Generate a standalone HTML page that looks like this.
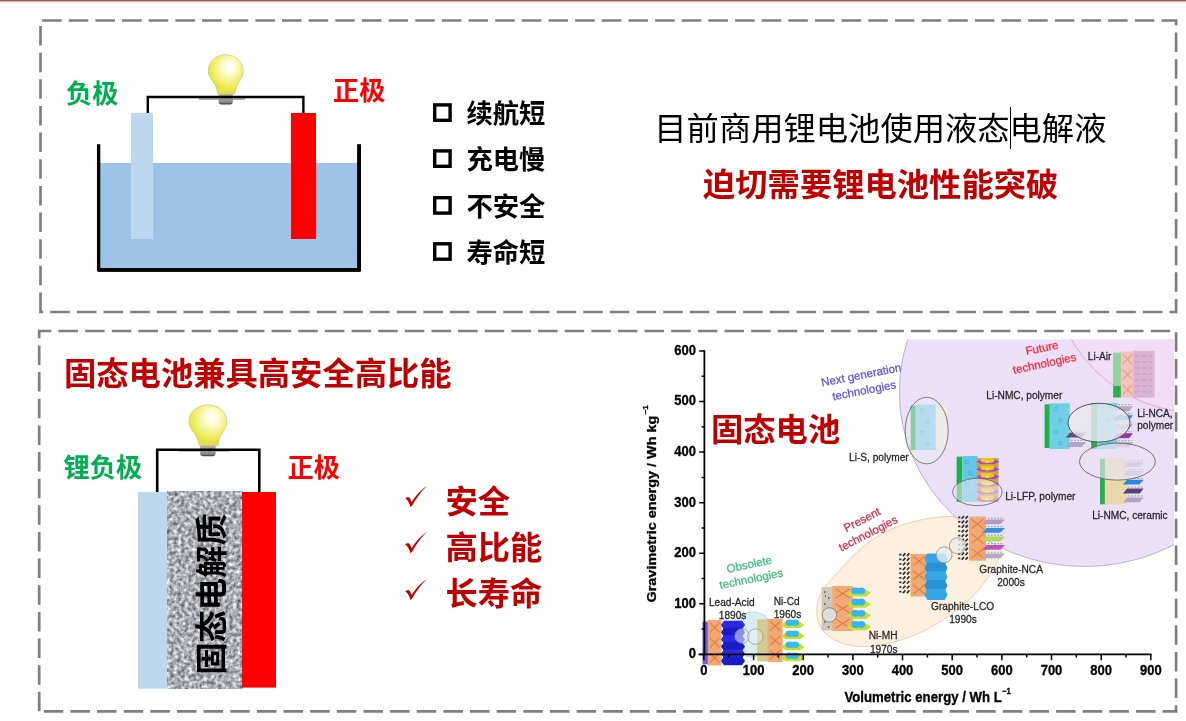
<!DOCTYPE html>
<html lang="zh-CN">
<head>
<meta charset="utf-8">
<title>固态电池兼具高安全高比能</title>
<style>
html,body{margin:0;padding:0;background:#fff;}
body{width:1186px;height:721px;position:relative;overflow:hidden;font-family:"Liberation Sans","Noto Sans CJK SC",sans-serif;}
#shapes{position:absolute;left:0;top:0;width:1186px;height:721px;}
.t{position:absolute;white-space:nowrap;line-height:1;margin:0;padding:0;}
.b{font-weight:700;}
.g{color:#00b050;}
.r{color:#ff0000;}
.dr{color:#c00000;}
.s26{font-size:26.3px;}
.s32{font-size:32.3px;}
ul{list-style:none;margin:0;padding:0;}
</style>
</head>
<body>
<svg id="shapes" width="1186" height="721" viewBox="0 0 1186 721">
<defs>
<radialGradient id="bulbg" cx="0.6" cy="0.32" r="0.6">
<stop offset="0" stop-color="#ffffff"/>
<stop offset="0.25" stop-color="#fdfddc"/>
<stop offset="0.58" stop-color="#f4f490"/>
<stop offset="0.9" stop-color="#ebeb4e"/>
<stop offset="1" stop-color="#e2e244"/>
</radialGradient>
<linearGradient id="baseg" x1="0" y1="0" x2="0" y2="1">
<stop offset="0" stop-color="#b5b0b8"/>
<stop offset="0.45" stop-color="#9a989e"/>
<stop offset="0.8" stop-color="#8a8a8a"/>
<stop offset="1" stop-color="#2e2e2e"/>
</linearGradient>
<filter id="granite" x="0" y="0" width="100%" height="100%" color-interpolation-filters="sRGB">
<feTurbulence type="fractalNoise" baseFrequency="0.27" numOctaves="2" seed="7" result="n"/>
<feColorMatrix in="n" type="matrix" values="0 0.95 0 0 0.2  0 0.95 0 0 0.205  0 0.95 0 0 0.23  0 0 0 0 1" result="c"/>
<feGaussianBlur in="c" stdDeviation="0.6"/>
</filter>
<path id="chk" d="M0.15,12.60 C1.26,11.66 2.93,11.10 4.04,11.66 C5.15,12.49 5.98,14.71 6.81,16.37 C9.86,10.83 15.41,4.17 22.07,0.18 C17.07,4.72 11.53,11.94 7.64,19.15 C7.09,20.26 6.26,20.92 5.31,21.15 C4.59,18.04 2.93,14.16 0.15,12.60Z" fill="#c00000"/>
<g id="bulb">
<rect x="-9.4" y="43.5" width="46.2" height="1.7" fill="#a3a3a3"/>
<path d="M10.3,39 H24.5 V47 Q24.5,49.7 21.5,49.7 H13.3 Q10.3,49.7 10.3,47 Z" fill="url(#baseg)"/>
<path d="M17.4,0 C7.5,0 0,7.2 0,16.2 C0,22.3 4.2,25.3 6.8,30.2 C8.3,33 9,36 9.4,39.3 L26.6,39.3 C27,36 27.5,33 28.9,30.2 C31.2,25.3 34.9,22.3 34.9,16.2 C34.9,7.2 27.3,0 17.4,0 Z" fill="url(#bulbg)" stroke="#c6c66e" stroke-width="0.7"/>
</g>
</defs>
<!-- top rule -->
<rect x="0" y="0" width="1186" height="1" fill="#ab5254"/>
<rect x="0" y="1" width="1186" height="1" fill="#bcc0c0"/>
<rect x="0" y="2" width="1186" height="1" fill="#e6e7e8"/>
<rect x="0" y="3" width="1186" height="1" fill="#f7f7f8"/>
<!-- panels -->
<path d="M40.5,312 V20.5 H1176.1 V312 Z" fill="none" stroke="#7f7f7f" stroke-width="2.7" stroke-dasharray="19.5 7.15"/>
<path d="M39.2,711.3 V331 H1176.1 V711.3 Z" fill="none" stroke="#7f7f7f" stroke-width="2.7" stroke-dasharray="19.5 7.14"/>
<!-- beaker -->
<rect x="100" y="162.9" width="258" height="106" fill="#9dc3e6"/>
<rect x="131" y="113" width="22" height="126" fill="#bdd7ee"/>
<rect x="291" y="113" width="25" height="126" fill="#ff0000"/>
<rect x="96.95" y="144.2" width="3.35" height="127" fill="#000"/>
<rect x="357.1" y="144.2" width="3.9" height="127" fill="#000"/>
<rect x="97.6" y="268" width="262.8" height="3.9" fill="#000"/>
<use href="#bulb" transform="translate(208.3 54.7)"/>
<path d="M147.8,113 V97 H303.4 V113" fill="none" stroke="#000" stroke-width="2.4"/>
<!-- squares -->
<g fill="none" stroke="#000" stroke-width="3.4">
<rect x="434.7" y="104.9" width="15.4" height="15.4"/>
<rect x="434.7" y="150.9" width="15.4" height="15.4"/>
<rect x="434.7" y="197.7" width="15.4" height="15.4"/>
<rect x="434.7" y="243.8" width="15.4" height="15.4"/>
</g>
<!-- caret -->
<rect x="1010" y="107" width="1" height="42" fill="#000"/>
<!-- solid battery -->
<rect x="138" y="492" width="30" height="196.7" fill="#bdd7ee"/>
<rect x="167.5" y="491" width="74.6" height="197.7" fill="#b0b0b0"/>
<rect x="167.5" y="491" width="74.6" height="197.7" filter="url(#granite)"/>
<rect x="242" y="492" width="34" height="195.6" fill="#ff0000"/>
<use href="#bulb" transform="translate(189 404.9) scale(1.086 1.034)"/>
<path d="M157.2,492 V449.7 H259.3 V492" fill="none" stroke="#000" stroke-width="2.6"/>
<use href="#chk" transform="translate(405 485.7)"/>
<use href="#chk" transform="translate(405 531.9)"/>
<use href="#chk" transform="translate(405 578.7)"/>
<!--CHART-->
<clipPath id="cimg"><rect x="640" y="339.6" width="534" height="370"/></clipPath>
<filter id="soft" x="-2%" y="-2%" width="104%" height="104%"><feGaussianBlur stdDeviation="0.6"/></filter>
<g filter="url(#soft)">
<g id="chart" clip-path="url(#cimg)">
<path d="M816.8,612.2C816.7,608.6 817.1,604.7 818.0,601.1C819.0,597.5 820.5,594.0 822.5,590.6C824.5,587.3 827.0,584.6 829.9,581.2C832.8,577.9 836.2,574.5 839.6,570.6C843.1,566.8 847.1,562.2 850.8,558.3C854.6,554.5 858.5,550.7 862.2,547.5C865.9,544.3 869.6,541.7 873.3,539.2C877.0,536.7 880.7,534.6 884.4,532.6C888.1,530.6 891.8,529.0 895.5,527.5C899.2,526.0 902.8,524.7 906.5,523.6C910.2,522.4 913.9,521.5 917.6,520.6C921.3,519.8 925.0,519.1 928.7,518.5C932.4,517.9 936.1,517.5 939.8,517.1C943.5,516.8 947.1,516.5 950.9,516.5C954.7,516.4 958.5,516.3 962.5,516.7C966.5,517.1 970.9,517.6 975.0,518.8C979.1,520.0 983.6,521.7 987.2,523.9C990.9,526.1 994.3,529.0 996.8,532.0C999.2,535.0 1000.9,538.6 1001.7,542.1C1002.4,545.5 1002.2,549.0 1001.2,552.8C1000.1,556.7 998.1,560.6 995.6,565.0C993.2,569.5 989.9,574.8 986.5,579.7C983.0,584.5 978.9,589.7 974.9,594.0C970.9,598.4 966.6,602.2 962.4,605.8C958.3,609.3 954.1,612.3 950.0,615.3C945.8,618.2 941.7,620.9 937.5,623.4C933.3,625.9 929.2,628.2 925.0,630.3C920.8,632.4 916.8,634.2 912.5,635.9C908.2,637.6 903.9,639.1 899.1,640.5C894.3,641.9 888.9,643.3 883.8,644.3C878.6,645.3 873.0,646.1 868.3,646.4C863.5,646.7 859.3,646.6 855.2,646.2C851.1,645.7 847.5,645.0 843.8,643.8C840.1,642.6 836.3,641.0 833.0,639.0C829.7,637.1 826.4,634.6 824.0,631.8C821.6,629.1 819.8,626.0 818.6,622.7C817.4,619.4 816.9,615.8 816.8,612.2Z" fill="#fdf0df" stroke="#f3c6a6" stroke-width="0.9"/>
<ellipse cx="1084.5" cy="391.6" rx="185.2" ry="174.9" fill="#ecdff8" stroke="#b9b4d6" stroke-width="1"/>
<circle cx="1198.6" cy="265.7" r="147.2" fill="#efdef5" stroke="#ec9fc2" stroke-width="0.9"/>
<circle cx="752.3" cy="634.6" r="22.6" fill="#d9eeee" stroke="#b5cdd2" stroke-width="0.8"/>
<rect x="702.5" y="621.6" width="5.5" height="42.7" fill="#6c5fd6"/>
<rect x="707.8" y="620" width="13.8" height="45.4" fill="#f2a873"/><path d="M709.9,622.7L719.5,632.4M719.5,622.7L709.9,632.4M709.9,637.9L719.5,647.5M719.5,637.9L709.9,647.5M709.9,653L719.5,662.7M719.5,653L709.9,662.7" stroke="#de7f3e" stroke-width="1.1" fill="none"/>
<path d="M721,625.1l2.9,-4.4h18.2l2.9,4.4l-2.9,4.4h-18.2z" fill="#2a2ae0"/><path d="M721,632.2l2.9,-4.4h18.2l2.9,4.4l-2.9,4.4h-18.2z" fill="#1c1cc4"/><path d="M721,639.4l2.9,-4.4h18.2l2.9,4.4l-2.9,4.4h-18.2z" fill="#2a2ae0"/><path d="M721,646.6l2.9,-4.4h18.2l2.9,4.4l-2.9,4.4h-18.2z" fill="#1c1cc4"/><path d="M721,653.8l2.9,-4.4h18.2l2.9,4.4l-2.9,4.4h-18.2z" fill="#2a2ae0"/><path d="M721,660.9l2.9,-4.4h18.2l2.9,4.4l-2.9,4.4h-18.2z" fill="#1c1cc4"/>
<rect x="757.1" y="619.4" width="11" height="42" fill="#d3cb8f"/>
<rect x="767.6" y="618.8" width="15" height="43.2" fill="#f2a873"/><path d="M769.9,621.4L780.4,630.6M780.4,621.4L769.9,630.6M769.9,635.8L780.4,645M780.4,635.8L769.9,645M769.9,650.2L780.4,659.4M780.4,650.2L769.9,659.4" stroke="#de7f3e" stroke-width="1.1" fill="none"/>
<path d="M781,624.9l4.7,-3.3h14.1l4.7,3.3l-4.7,3.3h-14.1z" fill="#c8e028"/><ellipse cx="789.5" cy="622.7" rx="4" ry="3.3" fill="#35bdf0"/><ellipse cx="795.1" cy="622.7" rx="4" ry="3.3" fill="#35bdf0"/><path d="M781,635.9l4.7,-3.3h14.1l4.7,3.3l-4.7,3.3h-14.1z" fill="#c8e028"/><ellipse cx="789.5" cy="633.7" rx="4" ry="3.3" fill="#35bdf0"/><ellipse cx="795.1" cy="633.7" rx="4" ry="3.3" fill="#35bdf0"/><path d="M781,646.9l4.7,-3.3h14.1l4.7,3.3l-4.7,3.3h-14.1z" fill="#c8e028"/><ellipse cx="789.5" cy="644.7" rx="4" ry="3.3" fill="#35bdf0"/><ellipse cx="795.1" cy="644.7" rx="4" ry="3.3" fill="#35bdf0"/><path d="M781,657.9l4.7,-3.3h14.1l4.7,3.3l-4.7,3.3h-14.1z" fill="#c8e028"/><ellipse cx="789.5" cy="655.7" rx="4" ry="3.3" fill="#35bdf0"/><ellipse cx="795.1" cy="655.7" rx="4" ry="3.3" fill="#35bdf0"/>
<circle cx="742.1" cy="636" r="7.2" fill="#e8eef4" fill-opacity="0.55" stroke="#8f9ca6" stroke-width="0.8"/>
<circle cx="755.4" cy="636.6" r="7.8" fill="#e3f0ef" fill-opacity="0.4" stroke="#8f9ca6" stroke-width="0.8"/>
<rect x="821.6" y="587.2" width="11.1" height="43.2" fill="#cfc8ba"/>
<path d="M824,592h1.5M828,598h1.5M824,604h1.5M829,609h1.5M824,622h1.5M828,627h1.5M825,596h1" stroke="#555" stroke-width="1.4"/>
<rect x="832.2" y="586" width="21" height="45" fill="#f3aa78"/><path d="M835.4,588.7L850.1,598.3M850.1,588.7L835.4,598.3M835.4,603.7L850.1,613.3M850.1,603.7L835.4,613.3M835.4,618.7L850.1,628.3M850.1,618.7L835.4,628.3" stroke="#de7f3e" stroke-width="1.1" fill="none"/>
<path d="M846.6,593l4.9,-3.4h14.6l4.9,3.4l-4.9,3.4h-14.6z" fill="#c2e030"/><ellipse cx="855.4" cy="590.8" rx="4.1" ry="3.4" fill="#35b4ee"/><ellipse cx="861.2" cy="590.8" rx="4.1" ry="3.4" fill="#35b4ee"/><path d="M846.6,604.3l4.9,-3.4h14.6l4.9,3.4l-4.9,3.4h-14.6z" fill="#c2e030"/><ellipse cx="855.4" cy="602" rx="4.1" ry="3.4" fill="#35b4ee"/><ellipse cx="861.2" cy="602" rx="4.1" ry="3.4" fill="#35b4ee"/><path d="M846.6,615.5l4.9,-3.4h14.6l4.9,3.4l-4.9,3.4h-14.6z" fill="#c2e030"/><ellipse cx="855.4" cy="613.3" rx="4.1" ry="3.4" fill="#35b4ee"/><ellipse cx="861.2" cy="613.3" rx="4.1" ry="3.4" fill="#35b4ee"/><path d="M846.6,626.8l4.9,-3.4h14.6l4.9,3.4l-4.9,3.4h-14.6z" fill="#c2e030"/><ellipse cx="855.4" cy="624.5" rx="4.1" ry="3.4" fill="#35b4ee"/><ellipse cx="861.2" cy="624.5" rx="4.1" ry="3.4" fill="#35b4ee"/>
<circle cx="829.4" cy="614.9" r="7.2" fill="#e4e1e1" fill-opacity="0.85" stroke="#777" stroke-width="0.8"/>
<path d="M899.2,554.7h2.2M902.9,556.1l2.5,-2.8M906.9,556.1l2.5,-2.8M899.2,559.3h2.2M902.9,560.7l2.5,-2.8M906.9,560.7l2.5,-2.8M899.2,564h2.2M902.9,565.3l2.5,-2.8M906.9,565.3l2.5,-2.8M899.2,568.6h2.2M902.9,570l2.5,-2.8M906.9,570l2.5,-2.8M899.2,573.2h2.2M902.9,574.6l2.5,-2.8M906.9,574.6l2.5,-2.8M899.2,577.8h2.2M902.9,579.2l2.5,-2.8M906.9,579.2l2.5,-2.8M899.2,582.4h2.2M902.9,583.8l2.5,-2.8M906.9,583.8l2.5,-2.8M899.2,587.1h2.2M902.9,588.5l2.5,-2.8M906.9,588.5l2.5,-2.8M899.2,591.7h2.2M902.9,593.1l2.5,-2.8M906.9,593.1l2.5,-2.8" stroke="#2c2c2c" stroke-width="1.7" fill="none"/>
<rect x="910.5" y="554" width="17" height="42.5" fill="#f2a873"/><path d="M913,556.5L925,565.6M925,556.5L913,565.6M913,570.7L925,579.8M925,570.7L913,579.8M913,584.9L925,594M925,584.9L913,594" stroke="#de7f3e" stroke-width="1.1" fill="none"/>
<path d="M924.5,559l2.8,-5.5h17.5l2.8,5.5l-2.8,5.5h-17.5z" fill="#36a6e4"/><path d="M924.5,567.9l2.8,-5.5h17.5l2.8,5.5l-2.8,5.5h-17.5z" fill="#2b93d8"/><path d="M924.5,576.8l2.8,-5.5h17.5l2.8,5.5l-2.8,5.5h-17.5z" fill="#36a6e4"/><path d="M924.5,585.6l2.8,-5.5h17.5l2.8,5.5l-2.8,5.5h-17.5z" fill="#2b93d8"/><path d="M924.5,594.5l2.8,-5.5h17.5l2.8,5.5l-2.8,5.5h-17.5z" fill="#36a6e4"/>
<path d="M958.2,517.3h2.1M961.7,518.7l2.3,-2.7M965.5,518.7l2.3,-2.7M958.2,521.9h2.1M961.7,523.2l2.3,-2.7M965.5,523.2l2.3,-2.7M958.2,526.4h2.1M961.7,527.8l2.3,-2.7M965.5,527.8l2.3,-2.7M958.2,531h2.1M961.7,532.4l2.3,-2.7M965.5,532.4l2.3,-2.7M958.2,535.6h2.1M961.7,536.9l2.3,-2.7M965.5,536.9l2.3,-2.7M958.2,540.1h2.1M961.7,541.5l2.3,-2.7M965.5,541.5l2.3,-2.7M958.2,544.7h2.1M961.7,546.1l2.3,-2.7M965.5,546.1l2.3,-2.7M958.2,549.3h2.1M961.7,550.6l2.3,-2.7M965.5,550.6l2.3,-2.7M958.2,553.8h2.1M961.7,555.2l2.3,-2.7M965.5,555.2l2.3,-2.7M958.2,558.4h2.1M961.7,559.8l2.3,-2.7M965.5,559.8l2.3,-2.7" stroke="#2c2c2c" stroke-width="1.7" fill="none"/>
<rect x="969" y="516.6" width="17" height="44.1" fill="#f2a873"/><path d="M971.5,519.2L983.5,528.7M983.5,519.2L971.5,528.7M971.5,533.9L983.5,543.4M983.5,533.9L971.5,543.4M971.5,548.6L983.5,558.1M983.5,548.6L971.5,558.1" stroke="#de7f3e" stroke-width="1.1" fill="none"/>
<path d="M982,524.3l4.6,-4.7h18.4l-4.6,4.7z" fill="#b49ac9"/><path d="M987.8,518.2h16.1" stroke="#59b95e" stroke-width="1" stroke-dasharray="1.6 1.6"/><path d="M982,532.8l4.6,-4.7h18.4l-4.6,4.7z" fill="#3a8fe0"/><path d="M987.8,526.7h16.1" stroke="#59b95e" stroke-width="1" stroke-dasharray="1.6 1.6"/><path d="M982,541.3l4.6,-4.7h18.4l-4.6,4.7z" fill="#b0d85a"/><path d="M987.8,535.2h16.1" stroke="#59b95e" stroke-width="1" stroke-dasharray="1.6 1.6"/><path d="M982,549.8l4.6,-4.7h18.4l-4.6,4.7z" fill="#c04fc0"/><path d="M987.8,543.7h16.1" stroke="#59b95e" stroke-width="1" stroke-dasharray="1.6 1.6"/><path d="M982,558.3l4.6,-4.7h18.4l-4.6,4.7z" fill="#b7a6c9"/><path d="M987.8,552.2h16.1" stroke="#59b95e" stroke-width="1" stroke-dasharray="1.6 1.6"/>
<circle cx="944.1" cy="554.9" r="8" fill="#e9ecec" fill-opacity="0.8" stroke="#8c8c8c" stroke-width="0.8"/>
<circle cx="957.4" cy="545.8" r="8" fill="#ececea" fill-opacity="0.8" stroke="#8c8c8c" stroke-width="0.8"/>
<rect x="910.7" y="405.6" width="5.3" height="44.4" fill="#2cb054"/>
<rect x="915.6" y="404.6" width="21.4" height="45.4" fill="#7dcfea"/><circle cx="922" cy="410.3" r="1.8" fill="none" stroke="#4aa0d8" stroke-width="0.7"/><circle cx="927.4" cy="421.6" r="1.8" fill="none" stroke="#4aa0d8" stroke-width="0.7"/><circle cx="922" cy="433" r="1.8" fill="none" stroke="#4aa0d8" stroke-width="0.7"/><circle cx="927.4" cy="444.3" r="1.8" fill="none" stroke="#4aa0d8" stroke-width="0.7"/>
<rect x="935.7" y="405" width="11" height="44" fill="#f3ead6"/>
<ellipse cx="926.7" cy="430.6" rx="21.5" ry="33.3" fill="#ecebf1" fill-opacity="0.5" stroke="#6f6f6f" stroke-width="0.9"/>
<rect x="956.6" y="456.6" width="5.6" height="45.1" fill="#22b04e"/>
<rect x="962.2" y="456" width="15.2" height="46" fill="#63c6e8"/><circle cx="966.8" cy="461.8" r="1.8" fill="none" stroke="#4aa0d8" stroke-width="0.7"/><circle cx="970.6" cy="473.2" r="1.8" fill="none" stroke="#4aa0d8" stroke-width="0.7"/><circle cx="966.8" cy="484.8" r="1.8" fill="none" stroke="#4aa0d8" stroke-width="0.7"/><circle cx="970.6" cy="496.2" r="1.8" fill="none" stroke="#4aa0d8" stroke-width="0.7"/>
<rect x="977" y="458" width="21.5" height="44" fill="#c9a24a"/>
<path d="M976,461.7l4.7,-2.3h14.2l4.7,2.3l-4.7,2.3h-14.2z" fill="#a848c4"/><ellipse cx="984.5" cy="460.2" rx="4" ry="2.3" fill="#f4c520"/><ellipse cx="990.2" cy="460.2" rx="4" ry="2.3" fill="#f4c520"/><ellipse cx="987.3" cy="461.4" rx="2.4" ry="1.5" fill="#f6d838"/><path d="M976,469.2l4.7,-2.3h14.2l4.7,2.3l-4.7,2.3h-14.2z" fill="#a848c4"/><ellipse cx="984.5" cy="467.7" rx="4" ry="2.3" fill="#f4c520"/><ellipse cx="990.2" cy="467.7" rx="4" ry="2.3" fill="#f4c520"/><ellipse cx="987.3" cy="469" rx="2.4" ry="1.5" fill="#f6d838"/><path d="M976,476.7l4.7,-2.3h14.2l4.7,2.3l-4.7,2.3h-14.2z" fill="#a848c4"/><ellipse cx="984.5" cy="475.2" rx="4" ry="2.3" fill="#f4c520"/><ellipse cx="990.2" cy="475.2" rx="4" ry="2.3" fill="#f4c520"/><ellipse cx="987.3" cy="476.5" rx="2.4" ry="1.5" fill="#f6d838"/><path d="M976,484.2l4.7,-2.3h14.2l4.7,2.3l-4.7,2.3h-14.2z" fill="#a848c4"/><ellipse cx="984.5" cy="482.7" rx="4" ry="2.3" fill="#f4c520"/><ellipse cx="990.2" cy="482.7" rx="4" ry="2.3" fill="#f4c520"/><ellipse cx="987.3" cy="484" rx="2.4" ry="1.5" fill="#f6d838"/><path d="M976,491.7l4.7,-2.3h14.2l4.7,2.3l-4.7,2.3h-14.2z" fill="#a848c4"/><ellipse cx="984.5" cy="490.2" rx="4" ry="2.3" fill="#f4c520"/><ellipse cx="990.2" cy="490.2" rx="4" ry="2.3" fill="#f4c520"/><ellipse cx="987.3" cy="491.5" rx="2.4" ry="1.5" fill="#f6d838"/><path d="M976,499.2l4.7,-2.3h14.2l4.7,2.3l-4.7,2.3h-14.2z" fill="#a848c4"/><ellipse cx="984.5" cy="497.7" rx="4" ry="2.3" fill="#f4c520"/><ellipse cx="990.2" cy="497.7" rx="4" ry="2.3" fill="#f4c520"/><ellipse cx="987.3" cy="499" rx="2.4" ry="1.5" fill="#f6d838"/>
<ellipse cx="977.4" cy="492" rx="24.7" ry="13.6" fill="#eeeaf4" fill-opacity="0.55" stroke="#6f6f6f" stroke-width="0.9"/>
<rect x="1044.6" y="404.3" width="5.8" height="43.7" fill="#22b04e"/>
<rect x="1049.4" y="403.3" width="20.4" height="45.7" fill="#6dd0e6"/><circle cx="1055.5" cy="409" r="1.8" fill="none" stroke="#4aa0d8" stroke-width="0.7"/><circle cx="1060.6" cy="420.4" r="1.8" fill="none" stroke="#4aa0d8" stroke-width="0.7"/><circle cx="1055.5" cy="431.9" r="1.8" fill="none" stroke="#4aa0d8" stroke-width="0.7"/><circle cx="1060.6" cy="443.3" r="1.8" fill="none" stroke="#4aa0d8" stroke-width="0.7"/>
<path d="M1066,437.6l4,-5.2h16l-4,5.2z" fill="#6a4a80"/><path d="M1071,430.8h14" stroke="#59b95e" stroke-width="1" stroke-dasharray="1.6 1.6"/><path d="M1066,447.1l4,-5.2h16l-4,5.2z" fill="#b3a3c6"/><path d="M1071,440.3h14" stroke="#59b95e" stroke-width="1" stroke-dasharray="1.6 1.6"/>
<rect x="1091.2" y="403" width="5.8" height="46" fill="#22b04e"/>
<rect x="1097" y="403" width="20.4" height="46" fill="#6dd0e6"/><circle cx="1103.1" cy="408.8" r="1.8" fill="none" stroke="#4aa0d8" stroke-width="0.7"/><circle cx="1108.2" cy="420.2" r="1.8" fill="none" stroke="#4aa0d8" stroke-width="0.7"/><circle cx="1103.1" cy="431.8" r="1.8" fill="none" stroke="#4aa0d8" stroke-width="0.7"/><circle cx="1108.2" cy="443.2" r="1.8" fill="none" stroke="#4aa0d8" stroke-width="0.7"/>
<path d="M1113.5,411.2l3.9,-5h15.6l-3.9,5z" fill="#b3a3c6"/><path d="M1118.4,404.7h13.6" stroke="#59b95e" stroke-width="1" stroke-dasharray="1.6 1.6"/><path d="M1113.5,420.2l3.9,-5h15.6l-3.9,5z" fill="#2f86e0"/><path d="M1118.4,413.7h13.6" stroke="#59b95e" stroke-width="1" stroke-dasharray="1.6 1.6"/><path d="M1113.5,429.2l3.9,-5h15.6l-3.9,5z" fill="#b3a3c6"/><path d="M1118.4,422.7h13.6" stroke="#59b95e" stroke-width="1" stroke-dasharray="1.6 1.6"/><path d="M1113.5,438.2l3.9,-5h15.6l-3.9,5z" fill="#a030b0"/><path d="M1118.4,431.7h13.6" stroke="#59b95e" stroke-width="1" stroke-dasharray="1.6 1.6"/><path d="M1113.5,447.2l3.9,-5h15.6l-3.9,5z" fill="#b3a3c6"/><path d="M1118.4,440.7h13.6" stroke="#59b95e" stroke-width="1" stroke-dasharray="1.6 1.6"/>
<ellipse cx="1099" cy="422.7" rx="31" ry="19.4" fill="#e9e8ee" fill-opacity="0.82" stroke="#555" stroke-width="1"/>
<rect x="1100" y="458.7" width="5.8" height="45.6" fill="#22b04e"/>
<rect x="1104.8" y="458.7" width="22.3" height="45.6" fill="#e9d9ab"/>
<path d="M1123,467l4.1,-4.8h16.6l-4.1,4.8z" fill="#b8aacd"/><path d="M1128.2,460.7h14.5" stroke="#59b95e" stroke-width="1" stroke-dasharray="1.6 1.6"/><path d="M1123,475.8l4.1,-4.8h16.6l-4.1,4.8z" fill="#b8aacd"/><path d="M1128.2,469.5h14.5" stroke="#59b95e" stroke-width="1" stroke-dasharray="1.6 1.6"/><path d="M1123,484.6l4.1,-4.8h16.6l-4.1,4.8z" fill="#2f86e0"/><path d="M1128.2,478.3h14.5" stroke="#59b95e" stroke-width="1" stroke-dasharray="1.6 1.6"/><path d="M1123,493.4l4.1,-4.8h16.6l-4.1,4.8z" fill="#5a3f78"/><path d="M1128.2,487.1h14.5" stroke="#59b95e" stroke-width="1" stroke-dasharray="1.6 1.6"/><path d="M1123,502.2l4.1,-4.8h16.6l-4.1,4.8z" fill="#b3a3c6"/><path d="M1128.2,495.9h14.5" stroke="#59b95e" stroke-width="1" stroke-dasharray="1.6 1.6"/>
<ellipse cx="1117.4" cy="461.6" rx="37.9" ry="18.5" fill="#e8e3ee" fill-opacity="0.66" stroke="#666" stroke-width="0.9"/>
<rect x="1113.2" y="352.6" width="8.3" height="44.8" fill="#93cf9f"/>
<rect x="1113.2" y="386" width="8.3" height="11.4" fill="#28b050"/>
<rect x="1120.8" y="351.5" width="13.3" height="46" fill="#f1c4bd"/><path d="M1122.8,354.3L1132.1,364.1M1132.1,354.3L1122.8,364.1M1122.8,369.6L1132.1,379.4M1132.1,369.6L1122.8,379.4M1122.8,384.9L1132.1,394.7M1132.1,384.9L1122.8,394.7" stroke="#e79a93" stroke-width="1.1" fill="none"/>
<rect x="1133.3" y="350.7" width="21.2" height="47" fill="#dab4d4"/>
<path d="M1135,356h17M1135,362h17M1135,368h17M1135,374h17M1135,380h17M1135,386h17M1135,392h17" stroke="#c095bd" stroke-width="0.9" stroke-dasharray="5 2"/>
</g>
<g id="axes" stroke="#000" fill="none">
<path d="M704.4,350.2 V655.2" stroke-width="1.8"/>
<path d="M698.6,654.4 H1151.6" stroke-width="1.9"/>
<path d="M699.2,654.4H704M701.6,629.1H704M699.2,603.8H704M701.6,578.5H704M699.2,553.3H704M701.6,528H704M699.2,502.7H704M701.6,477.4H704M699.2,452.1H704M701.6,426.8H704M699.2,401.5H704M701.6,376.2H704M699.2,351H704" stroke-width="1.5"/>
<path d="M703.9,654V660.2M728.7,654V657.4M753.6,654V660.2M778.4,654V657.4M803.2,654V660.2M828.1,654V657.4M852.9,654V660.2M877.7,654V657.4M902.5,654V660.2M927.4,654V657.4M952.2,654V660.2M977,654V657.4M1001.9,654V660.2M1026.7,654V657.4M1051.5,654V660.2M1076.3,654V657.4M1101.2,654V660.2M1126,654V657.4M1150.8,654V660.2" stroke-width="1.5"/>
</g>
<g font-family="'Liberation Sans',sans-serif" font-weight="700" font-size="13" fill="#000" stroke="#000" stroke-width="0.3">
<text transform="translate(696 658.3) scale(1 1.1)" text-anchor="end">0</text>
<text transform="translate(696 607.7) scale(1 1.1)" text-anchor="end">100</text>
<text transform="translate(696 557.2) scale(1 1.1)" text-anchor="end">200</text>
<text transform="translate(696 506.6) scale(1 1.1)" text-anchor="end">300</text>
<text transform="translate(696 456) scale(1 1.1)" text-anchor="end">400</text>
<text transform="translate(696 405.4) scale(1 1.1)" text-anchor="end">500</text>
<text transform="translate(696 354.9) scale(1 1.1)" text-anchor="end">600</text>
<text transform="translate(703.9 674.8) scale(1 1.13)" text-anchor="middle">0</text>
<text transform="translate(753.6 674.8) scale(1 1.13)" text-anchor="middle">100</text>
<text transform="translate(803.2 674.8) scale(1 1.13)" text-anchor="middle">200</text>
<text transform="translate(852.9 674.8) scale(1 1.13)" text-anchor="middle">300</text>
<text transform="translate(902.5 674.8) scale(1 1.13)" text-anchor="middle">400</text>
<text transform="translate(952.2 674.8) scale(1 1.13)" text-anchor="middle">500</text>
<text transform="translate(1001.9 674.8) scale(1 1.13)" text-anchor="middle">600</text>
<text transform="translate(1051.5 674.8) scale(1 1.13)" text-anchor="middle">700</text>
<text transform="translate(1101.2 674.8) scale(1 1.13)" text-anchor="middle">800</text>
<text transform="translate(1150.8 674.8) scale(1 1.13)" text-anchor="middle">900</text>
<text transform="translate(844.4 701.8) scale(1 1.13)" font-size="13.2">Volumetric energy / Wh L</text>
<text transform="translate(1002 694) scale(1 1.13)" font-size="7.6">−1</text>
<text transform="translate(655.6 602.5) rotate(-90)" font-size="12.6" textLength="186.8" lengthAdjust="spacingAndGlyphs">Gravimetric energy / Wh kg</text>
<text transform="translate(647.6 414.6) rotate(-90) scale(1.13 1)" font-size="7.4">−1</text>
</g>
<g font-family="'Liberation Sans',sans-serif" font-size="10.15" fill="#262626" stroke="#262626" stroke-width="0.25">
<text transform="translate(708.9 606.3) scale(1 1.13)">Lead-Acid</text>
<text transform="translate(718.8 619) scale(1 1.13)">1890s</text>
<text transform="translate(773.7 604.6) scale(1 1.13)">Ni-Cd</text>
<text transform="translate(773.7 617.9) scale(1 1.13)">1960s</text>
<text transform="translate(868.8 639) scale(1 1.13)">Ni-MH</text>
<text transform="translate(869.9 652.8) scale(1 1.13)">1970s</text>
<text transform="translate(931 610) scale(1 1.13)">Graphite-LCO</text>
<text transform="translate(963 623) scale(1 1.13)" text-anchor="middle">1990s</text>
<text transform="translate(979.3 572.7) scale(1 1.13)">Graphite-NCA</text>
<text transform="translate(1011 585.8) scale(1 1.13)" text-anchor="middle">2000s</text>
<text transform="translate(849 460.6) scale(1 1.13)">Li-S, polymer</text>
<text transform="translate(1005.2 500.1) scale(1 1.13)">Li-LFP, polymer</text>
<text transform="translate(986.3 398.9) scale(1 1.13)">Li-NMC, polymer</text>
<text transform="translate(1087.8 359.5) scale(1 1.13)">Li-Air</text>
<text transform="translate(1137.2 416.6) scale(1 1.13)">Li-NCA,</text>
<text transform="translate(1137.2 428.8) scale(1 1.13)">polymer</text>
<text transform="translate(1092.2 519.2) scale(1 1.13)">Li-NMC, ceramic</text>
</g>
<g font-family="'Liberation Sans',sans-serif" font-size="11.5" stroke-width="0.25">
<text transform="translate(822.1 386.5) rotate(-11.00)" fill="#5c4fdc" stroke="#5c4fdc">Next generation</text>
<text transform="translate(833.2 400.4) rotate(-11.00)" fill="#5c4fdc" stroke="#5c4fdc">technologies</text>
<text transform="translate(1026.4 355.1) rotate(-11.50)" fill="#ea2a3c" stroke="#ea2a3c">Future</text>
<text transform="translate(1013.8 373.9) rotate(-12.00)" fill="#ea2a3c" stroke="#ea2a3c">technologies</text>
<text transform="translate(727.5 572.9) rotate(-11.80)" fill="#3dba78" stroke="#3dba78">Obsolete</text>
<text transform="translate(720.3 589.1) rotate(-11.30)" fill="#3dba78" stroke="#3dba78">technologies</text>
<text transform="translate(846.2 532.3) rotate(-27.30)" fill="#cf3048" stroke="#cf3048">Present</text>
<text transform="translate(841.3 551.7) rotate(-27.40)" fill="#cf3048" stroke="#cf3048">technologies</text>
</g>
</g>
<!--/CHART-->
</svg>

<div class="t b g s26" style="left:66px;top:81px;">负极</div>
<div class="t b r s26" style="left:333px;top:78px;">正极</div>
<ul>
<li class="t b s26" style="left:466.5px;top:101px;">续航短</li>
<li class="t b s26" style="left:466.5px;top:147px;">充电慢</li>
<li class="t b s26" style="left:466.5px;top:194px;">不安全</li>
<li class="t b s26" style="left:466.5px;top:240px;">寿命短</li>
</ul>
<div class="t s32" style="left:654.3px;top:112.7px;">目前商用锂电池使用液态电解液</div>
<div class="t b dr s32" style="left:703px;top:169.4px;">迫切需要锂电池性能突破</div>

<div class="t b dr s32" style="left:64px;top:358px;">固态电池兼具高安全高比能</div>
<div class="t b g s26" style="left:63.5px;top:455px;">锂负极</div>
<div class="t b r s26" style="left:287.5px;top:455px;">正极</div>
<div class="t b s32" style="left:211.5px;top:593.6px;transform:translate(-50%,-50%) rotate(-90deg);">固态电解质</div>
<ul>
<li class="t b dr s32" style="left:445.5px;top:485.5px;">安全</li>
<li class="t b dr s32" style="left:445.5px;top:531.5px;">高比能</li>
<li class="t b dr s32" style="left:445.5px;top:578px;">长寿命</li>
</ul>
<div class="t b dr s32" style="left:711px;top:414px;">固态电池</div>
</body>
</html>
